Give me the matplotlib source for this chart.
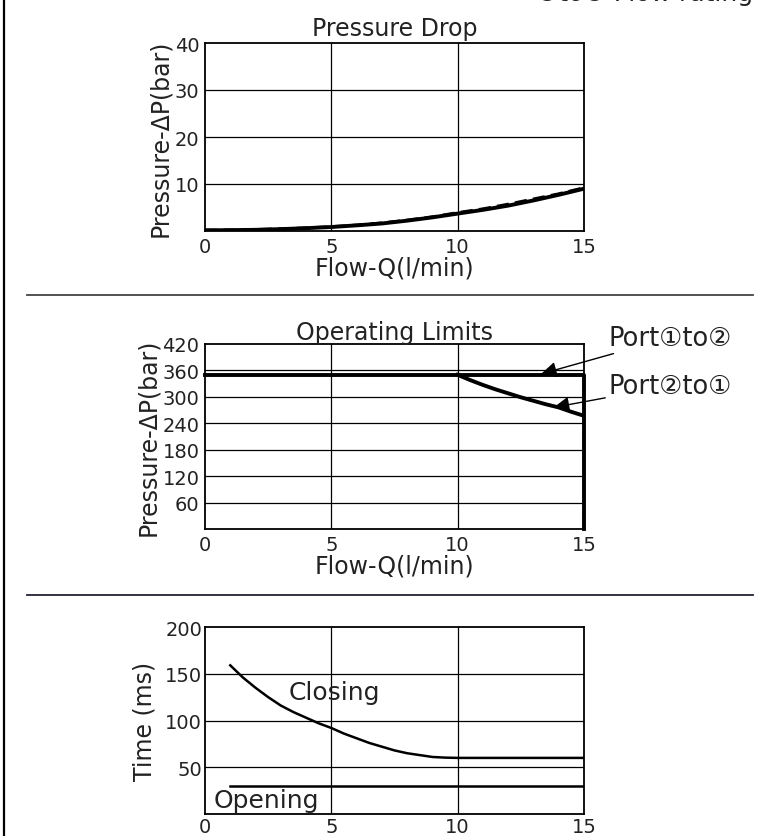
import numpy as np
import matplotlib.pyplot as plt
from matplotlib.lines import Line2D

plt.rcParams['font.family'] = ['DejaVu Sans', 'Noto Sans CJK JP']

# pressure drop curve
flow_pd = [0, 1, 2, 3, 4, 5, 6, 7, 8, 9, 10, 11, 12, 13, 14, 15]
dp_solid = [0.15, 0.18, 0.25, 0.4, 0.6, 0.85, 1.2, 1.6, 2.2, 2.9, 3.7, 4.5, 5.4, 6.5, 7.7, 9.0]
dp_dash = [0.15, 0.2, 0.3, 0.45, 0.65, 0.9, 1.25, 1.7, 2.3, 3.0, 3.9, 4.7, 5.7, 6.8, 7.9, 9.2]

# operating limits
flow_12 = [0, 15, 15]
p_12 = [350, 350, 0]
flow_21 = [10, 10.5, 11, 11.5, 12, 12.5, 13, 13.5, 14, 14.5, 15]
p_21 = [350, 338, 327, 317, 308, 299, 291, 283, 276, 266, 257]

# response time
flow_close = [1, 1.5, 2, 2.5, 3, 3.5, 4, 4.5, 5, 5.5, 6, 6.5, 7, 7.5, 8, 8.5, 9, 9.5, 10, 15]
t_close = [159, 146, 135, 125, 116, 109, 103, 97, 92, 86, 81, 76, 72, 68, 65, 63, 61, 60.3, 60, 60]
flow_open = [1, 15]
t_open = [30, 30]

W, H = 767, 837
fig = plt.figure(figsize=(W / 100, H / 100), dpi=100)
tc = '#222222'

def box(l, t, r, b):
    return [l / W, 1 - b / H, (r - l) / W, (b - t) / H]

def style(ax, ylim, yticks, xgrid, ygrid, pad=4):
    ax.set_xlim(0, 15)
    ax.set_ylim(*ylim)
    ax.set_xticks([0, 5, 10, 15])
    ax.set_yticks(yticks)
    ax.tick_params(length=0, labelsize=14, labelcolor=tc, pad=pad)
    for s in ax.spines.values():
        s.set_linewidth(1.3)
    for g in xgrid:
        ax.axvline(g, color='k', lw=0.9, zorder=1)
    for g in ygrid:
        ax.axhline(g, color='k', lw=0.9, zorder=1)

# top: pressure drop
ax1 = fig.add_axes(box(205, 44, 584, 232))
style(ax1, (0, 40), [10, 20, 30, 40], [5, 10], [10, 20, 30])
ax1.plot(flow_pd, dp_dash, color='k', lw=2.2, ls=(0, (4, 2)), zorder=3)
ax1.plot(flow_pd, dp_solid, color='k', lw=2.8, zorder=3)
ax1.set_title('Pressure Drop', fontsize=17, color=tc, pad=6)
ax1.set_xlabel('Flow-Q(l/min)', fontsize=17, color=tc, labelpad=0)
ax1.set_ylabel('Pressure-ΔP(bar)', fontsize=17, color=tc, labelpad=2)

# middle: operating limits
ax2 = fig.add_axes(box(205, 345, 584, 530))
style(ax2, (0, 420), [60, 120, 180, 240, 300, 360, 420], [5, 10], [60, 120, 180, 240, 300, 360])
ax2.plot(flow_12, p_12, color='k', lw=2.8, zorder=3, clip_on=False)
ax2.plot(flow_21, p_21, color='k', lw=2.8, zorder=3)
ax2.set_title('Operating Limits', fontsize=17, color=tc, pad=2)
ax2.set_xlabel('Flow-Q(l/min)', fontsize=17, color=tc, labelpad=0)
ax2.set_ylabel('Pressure-ΔP(bar)', fontsize=17, color=tc, labelpad=2)
arrow = dict(arrowstyle='-|>', color='k', lw=1, mutation_scale=24, shrinkA=0, shrinkB=0)
ax2.annotate('Port①to②', xy=(13.3, 352), xytext=(15.95, 434), fontsize=18.5, color=tc,
             va='center', annotation_clip=False, arrowprops=arrow)
ax2.annotate('Port②to①', xy=(13.8, 276), xytext=(15.95, 325), fontsize=18.5, color=tc,
             va='center', annotation_clip=False, arrowprops=arrow)

# bottom: response time
ax3 = fig.add_axes(box(205, 628, 584, 815))
style(ax3, (0, 200), [50, 100, 150, 200], [5, 10], [50, 100, 150], pad=2)
ax3.plot(flow_close, t_close, color='k', lw=1.8, zorder=3)
ax3.plot(flow_open, t_open, color='k', lw=1.8, zorder=3)
ax3.text(3.3, 130, 'Closing', fontsize=18, color=tc, va='center')
ax3.text(0.35, 15, 'Opening', fontsize=18, color=tc, va='center')
ax3.set_ylabel('Time (ms)', fontsize=17, color=tc, labelpad=6)

# frame lines and cut-off header
fig.add_artist(Line2D([27 / W, 753 / W], [1 - 296 / H] * 2, color='#444444', lw=1.3))
fig.add_artist(Line2D([27 / W, 753 / W], [1 - 596 / H] * 2, color='#222233', lw=1.3))
fig.add_artist(Line2D([4 / W] * 2, [0, 1], color='k', lw=1.6))
fig.text(536 / W, 1 - 1 / H, '①to② Flow rating', fontsize=18, color=tc, va='baseline')

fig.savefig('out.png', dpi=100)
